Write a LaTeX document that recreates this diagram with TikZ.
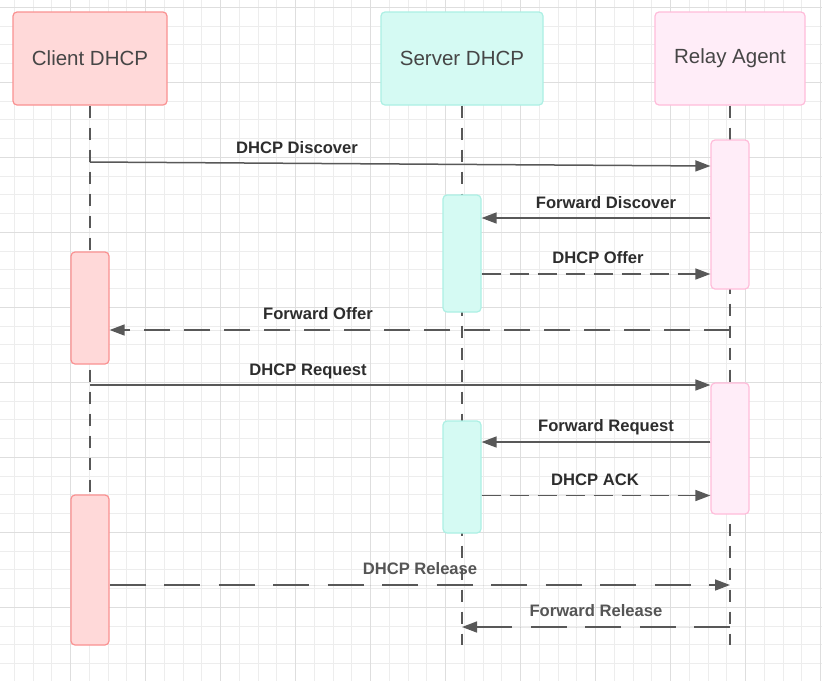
\documentclass[tikz,border=0pt]{standalone}
\usepackage{fontspec}
\setmainfont{Liberation Sans}
\usetikzlibrary{arrows.meta}
\definecolor{gridminor}{RGB}{237,237,237}
\definecolor{gridmajor}{RGB}{222,222,222}
\definecolor{cfill}{RGB}{255,217,217}
\definecolor{cdraw}{RGB}{250,145,145}
\definecolor{sfill}{RGB}{213,250,243}
\definecolor{sdraw}{RGB}{172,240,228}
\definecolor{rfill}{RGB}{255,237,248}
\definecolor{rdraw}{RGB}{255,188,218}
\definecolor{linec}{RGB}{88,88,88}
\definecolor{hdrtext}{RGB}{70,70,70}
\definecolor{lbltext}{RGB}{45,45,45}
\definecolor{lblgray}{RGB}{85,85,85}
\tikzset{
  hdr/.style={rounded corners=4pt, line width=1.2pt, text=hdrtext,
    font=\fontsize{20.5}{24}\selectfont, inner sep=0pt},
  actbox/.style={rounded corners=4pt, line width=1.2pt, minimum width=38pt, inner sep=0pt},
  life/.style={draw=linec, line width=1.6pt, dash pattern=on 12pt off 10pt},
  msg/.style={draw=linec, line width=1.5pt, -{Triangle[length=15pt,width=11pt]}, fill=linec},
  dshort/.style={dash pattern=on 19pt off 9pt},
  dmid/.style={dash pattern=on 26pt off 14pt},
  dlong/.style={dash pattern=on 36pt off 18.5pt},
  lbl/.style={font=\bfseries\fontsize{16.6}{19}\selectfont, text=lbltext, inner sep=1pt},
  lblg/.style={lbl, text=lblgray}
}
\begin{document}
\begin{tikzpicture}[x=1pt,y=-1pt]
\useasboundingbox (0,0) rectangle (822,681);
\fill[white] (0,0) rectangle (822,681);
% grid
\foreach \k in {0,...,43}{
  \pgfmathsetmacro\xx{14.25+18.75*\k}
  \draw[gridminor, line width=1pt] (\xx,0) -- (\xx,681);
}
\foreach \k in {0,...,35}{
  \pgfmathsetmacro\yy{7.3+18.75*\k}
  \draw[gridminor, line width=1pt] (0,\yy) -- (822,\yy);
}
\foreach \k in {3,7,...,43}{
  \pgfmathsetmacro\xx{14.25+18.75*\k}
  \draw[gridmajor, line width=1pt] (\xx,0) -- (\xx,681);
}
\foreach \k in {0,4,...,32}{
  \pgfmathsetmacro\yy{7.3+18.75*\k}
  \draw[gridmajor, line width=1pt] (0,\yy) -- (822,\yy);
}
% headers
\node[hdr, fill=cfill, draw=cdraw, minimum width=154pt, minimum height=93pt] (client) at (90,58.5) {Client DHCP};
\node[hdr, fill=sfill, draw=sdraw, minimum width=162pt, minimum height=93pt] (server) at (462,58.5) {Server DHCP};
\node[hdr, fill=rfill, draw=rdraw, minimum width=150pt, minimum height=93pt] (relay) at (730,58.5) {Relay Agent};
% lifelines
\coordinate (cend) at (90,645);
\coordinate (send) at (462,645);
\coordinate (rend) at (730,645);
\draw[life] (client.south) -- (cend);
\draw[life] (server.south) -- (send);
\draw[life] (relay.south) -- (rend);
% activations
\node[actbox, fill=rfill, draw=rdraw, minimum height=149pt] (ra1) at (730,214.5) {};
\node[actbox, fill=sfill, draw=sdraw, minimum height=117pt] (sa1) at (462,253.5) {};
\node[actbox, fill=cfill, draw=cdraw, minimum height=112pt] (ca1) at (90,308) {};
\node[actbox, fill=rfill, draw=rdraw, minimum height=131pt] (ra2) at (730,448.5) {};
\node[actbox, fill=sfill, draw=sdraw, minimum height=112pt] (sa2) at (462,477) {};
\node[actbox, fill=cfill, draw=cdraw, minimum height=150pt] (ca2) at (90,570) {};
% message levels
\coordinate (y1a) at (0,162);
\coordinate (y1b) at (0,166);
\coordinate (y2) at (0,218);
\coordinate (y3) at (0,274);
\coordinate (y4) at (0,330);
\coordinate (y5) at (0,385);
\coordinate (y6) at (0,442);
\coordinate (y7) at (0,495.5);
\coordinate (y8) at (0,585);
\coordinate (y9) at (0,627);
% messages
\draw[msg] (y1a -| client.south) -- (y1b -| ra1.west);
\draw[msg] (y2 -| ra1.west) -- (y2 -| sa1.east);
\draw[msg, dshort] (y3 -| sa1.east) -- (y3 -| ra1.west);
\draw[msg, dmid] (y4 -| relay.south) -- (y4 -| ca1.east);
\draw[msg] (y5 -| client.south) -- (y5 -| ra2.west);
\draw[msg] (y6 -| ra2.west) -- (y6 -| sa2.east);
\draw[msg, dshort] (y7 -| sa2.east) -- (y7 -| ra2.west);
\draw[msg, dlong] (y8 -| ca2.east) -- (y8 -| relay.south);
\draw[msg, dlong] (y9 -| relay.south) -- (y9 -| server.south);
% labels
\node[lbl] (l1) at (297,148) {DHCP Discover};
\node[lbl] (l2) at (606,203) {Forward Discover};
\node[lbl] (l3) at (598,258) {DHCP Offer};
\node[lbl] (l4) at (318,314) {Forward Offer};
\node[lbl] (l5) at (308,371) {DHCP Request};
\node[lbl] (l6) at (606,427) {Forward Request};
\node[lbl] (l7) at (595,480) {DHCP ACK};
\node[lblg] (l8) at (420,569) {DHCP Release};
\node[lblg] (l9) at (596,611) {Forward Release};
\end{tikzpicture}
\end{document}
